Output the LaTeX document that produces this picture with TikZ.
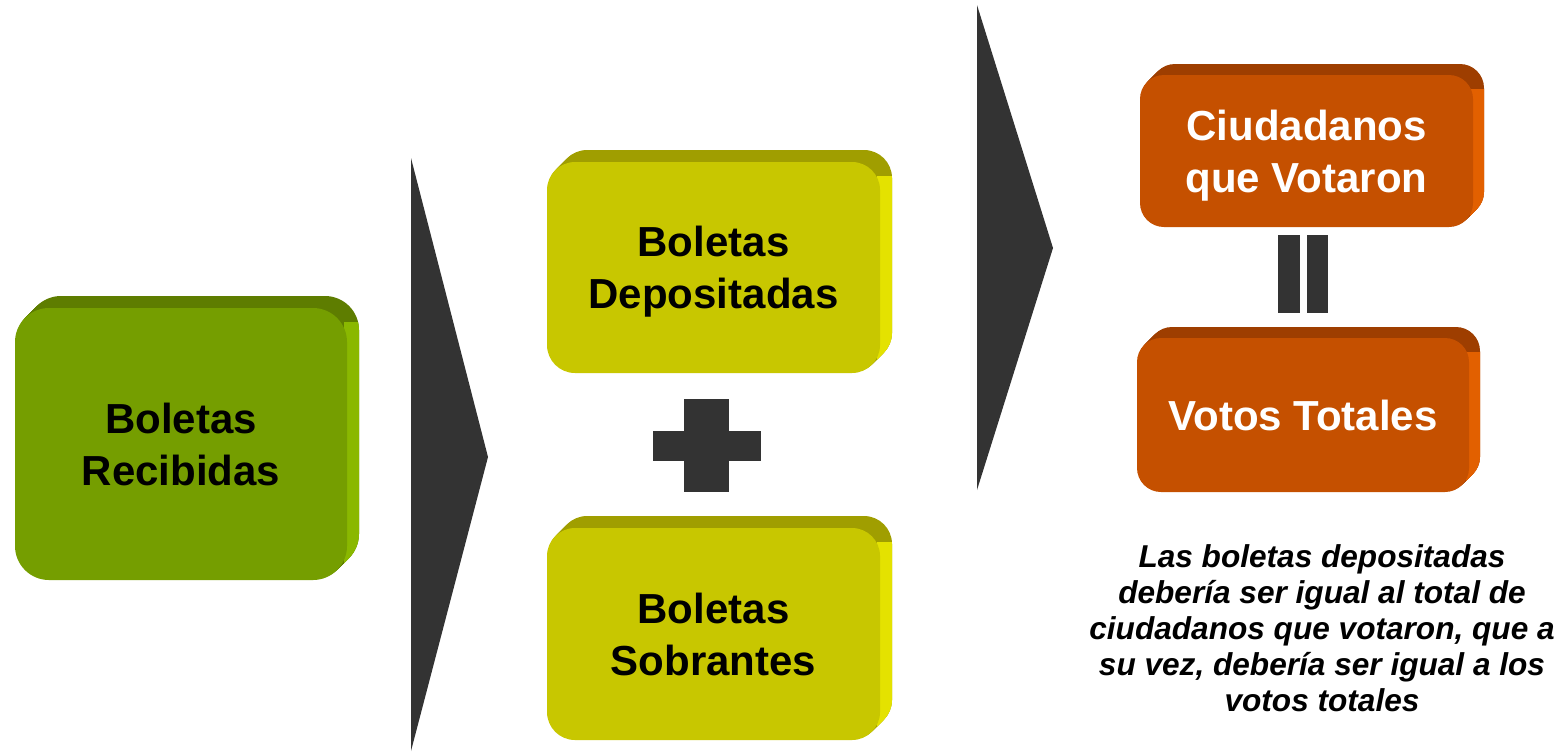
\documentclass[tikz,border=0pt]{standalone}
\usepackage{fontspec}
\setmainfont{Liberation Sans}
\definecolor{gface}{RGB}{117,158,0}
\definecolor{gtop}{RGB}{94,125,0}
\definecolor{gside}{RGB}{138,184,0}
\definecolor{yface}{RGB}{200,199,0}
\definecolor{ytop}{RGB}{160,158,0}
\definecolor{yside}{RGB}{228,226,0}
\definecolor{oface}{RGB}{197,80,0}
\definecolor{otop}{RGB}{158,62,0}
\definecolor{oside}{RGB}{226,96,0}
\definecolor{darkshape}{RGB}{51,51,51}
\newcommand{\extr}[8]{%
  \foreach \i in {1,...,#8}{\fill[#5, rounded corners=#7] (#1+\i,#2-\i) rectangle (#3+\i,#4-\i);}
  \begin{scope}
    \clip (#3-3,#2+14) rectangle (#3+#8+2,#4+2);
    \foreach \i in {1,...,#8}{\fill[#6, rounded corners=#7] (#1+\i,#2-\i) rectangle (#3+\i,#4-\i);}
  \end{scope}}
\tikzset{
  boxtext/.style={align=center, inner sep=0pt, text depth=0pt, font={\fontsize{21pt}{26pt}\selectfont\bfseries}},
  greenbox/.style={boxtext, fill=gface, rounded corners=17pt, text=black},
  yellowbox/.style={boxtext, fill=yface, rounded corners=14pt, text=black},
  orangebox/.style={boxtext, fill=oface, rounded corners=12pt, text=white},
  darkfill/.style={fill=darkshape},
  notetext/.style={align=center, inner sep=0pt, font={\fontsize{15.8pt}{18pt}\selectfont\bfseries\itshape}}
}
\begin{document}
\begin{tikzpicture}[x=0.5pt, y=-0.5pt]
\useasboundingbox (0,0) rectangle (1562,751);
% arrows
\fill[darkfill] (411,158) -- (488,457) -- (411,751) -- cycle;
\fill[darkfill] (977,5) -- (1053,248) -- (977,490) -- cycle;
% green box
\extr{15}{308}{347}{580}{gtop}{gside}{17pt}{12}
\node[greenbox, minimum width=166pt, minimum height=136pt] (recib) at (181,444) {Boletas\\Recibidas};
% yellow boxes
\extr{547}{162}{880}{373}{ytop}{yside}{14pt}{12}
\node[yellowbox, minimum width=166.5pt, minimum height=105.5pt] (depos) at (713.5,267.5) {Boletas\\Depositadas};
\extr{547}{528}{880}{740}{ytop}{yside}{14pt}{12}
\node[yellowbox, minimum width=166.5pt, minimum height=106pt] (sobr) at (713.5,634) {Boletas\\Sobrantes};
% plus
\fill[darkfill] (684,399) rectangle (729,492);
\fill[darkfill] (653,431) rectangle (761,461);
% orange boxes
\extr{1140}{75}{1473}{227}{otop}{oside}{12pt}{11}
\node[orangebox, minimum width=166.5pt, minimum height=76pt] (ciud) at (1306.5,151) {Ciudadanos\\que Votaron};
\extr{1137}{338}{1469}{492}{otop}{oside}{12pt}{11}
\node[orangebox, minimum width=166pt, minimum height=77pt] (votos) at (1303,415) {Votos Totales};
% equals
\fill[darkfill] (1278,235) rectangle (1300,313);
\fill[darkfill] (1307,235) rectangle (1328,313);
% note
\node[notetext] (note) at (1322,628) {Las boletas depositadas\\deber\'ia ser igual al total de\\ciudadanos que votaron, que a\\su vez, deber\'ia ser igual a los\\votos totales};
\end{tikzpicture}
\end{document}
